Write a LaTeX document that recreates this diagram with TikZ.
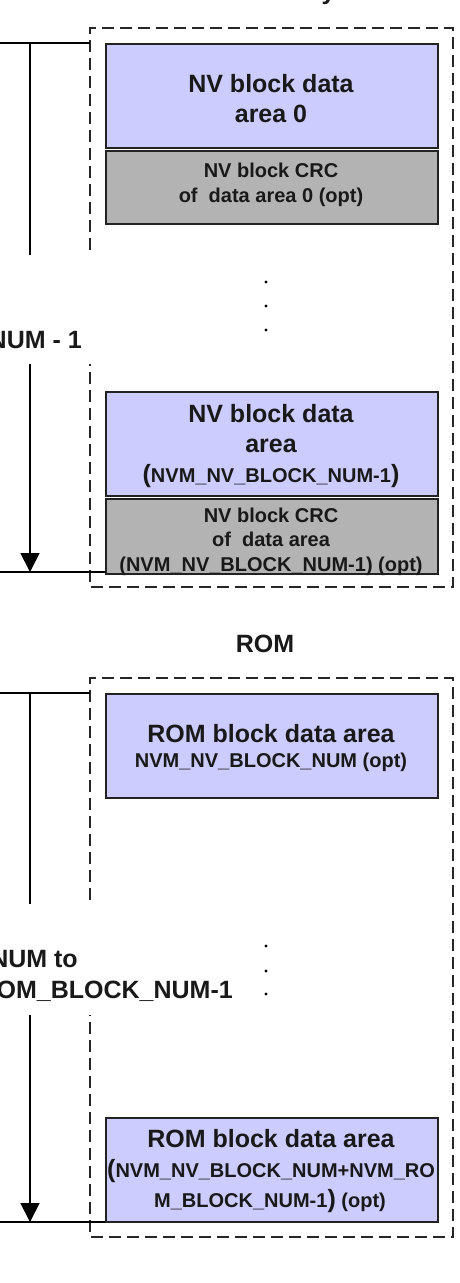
\documentclass[tikz,border=0pt]{standalone}
\usepackage{fontspec}
\setmainfont{Liberation Sans}
\usetikzlibrary{arrows.meta}
\definecolor{blkfill}{RGB}{204,204,255}
\definecolor{crcfill}{RGB}{179,179,179}
\definecolor{edge}{RGB}{34,34,34}
\begin{document}
\begin{tikzpicture}[x=1pt,y=-1pt,
  databox/.style={draw=edge, line width=1.6pt, fill=blkfill, minimum width=332pt, anchor=north west, inner sep=0pt},
  crcbox/.style={draw=edge, line width=1.6pt, fill=crcfill, minimum width=332pt, anchor=north west, inner sep=0pt},
  bigtxt/.style={font=\fontsize{25}{30}\selectfont\bfseries, inner sep=0pt, anchor=base, text=black!90},
  smalltxt/.style={font=\fontsize{20}{24}\selectfont\bfseries, inner sep=0pt, anchor=base, text=black!90},
  frame/.style={dashed, dash pattern=on 12pt off 6pt, line width=1.8pt, draw=black!85},
  rule/.style={line width=1.8pt, draw=black},
  span/.style={line width=1.8pt, draw=black, -{Triangle[width=19pt,length=19pt]}},
  dot/.style={circle, fill=black, inner sep=0pt, minimum size=3.2pt}
]
\useasboundingbox[fill=white] (0,0) rectangle (459,1283);

% title (mostly above the page)
\node[bigtxt] (title) at (266,-0.5) {NV memory};

% ---------- NV section ----------
\draw[frame] (90,250) -- (90,28) -- (453,28) -- (453,587) -- (90,587) -- (90,364);

\node[databox, minimum height=104pt] (nv0) at (105,43) {};
\node[crcbox, minimum height=73pt] (crc0) at (105,150) {};
\node[databox, minimum height=104pt] (nvn) at (105,391) {};
\node[crcbox, minimum height=75pt] (crcn) at (105,498) {};

\node[bigtxt] (nv0a) at (271,92) {NV block data};
\node[bigtxt] (nv0b) at (271,122) {area 0};
\node[smalltxt] (crc0a) at (271,177) {NV block CRC};
\node[smalltxt] (crc0b) at (271,202) {of\ \ data area 0 (opt)};

\node[bigtxt] (nvna) at (271,422) {NV block data};
\node[bigtxt] (nvnb) at (271,452) {area};
\node[bigtxt] (nvnc) at (271,482) {(\fontsize{20}{24}\selectfont NVM\_NV\_BLOCK\_NUM-1\fontsize{25}{30}\selectfont)};
\node[smalltxt] (crcna) at (271,522) {NV block CRC};
\node[smalltxt] (crcnb) at (271,546) {of\ \ data area};
\node[smalltxt] (crcnc) at (271,571) {(NVM\_NV\_BLOCK\_NUM-1) (opt)};

\node[dot] (d1) at (266,282) {};
\node[dot] (d2) at (266,306) {};
\node[dot] (d3) at (266,330) {};

\coordinate (nvtopL) at (0,43);
\coordinate (nvtopR) at (90,43);
\coordinate (nvbotL) at (0,572);
\coordinate (nvbotR) at (105,572);
\coordinate (nvA) at (30,43);
\coordinate (nvB) at (30,255);
\coordinate (nvC) at (30,364);
\coordinate (nvD) at (30,572);
\draw[rule] (nvtopL) -- (nvtopR);
\draw[rule] (nvbotL) -- (nvbotR);
\draw[rule] (nvA) -- (nvB);
\draw[span] (nvC) -- (nvD);
\node[bigtxt, anchor=base east] (nvlab) at (82,348) {NUM - 1};

% ---------- ROM ----------
\node[bigtxt] (romtitle) at (265,652) {ROM};

\draw[frame] (90,900) -- (90,678) -- (453,678) -- (453,1237) -- (90,1237) -- (90,1015);

\node[databox, minimum height=104pt] (rom0) at (105,693) {};
\node[databox, minimum height=104pt] (romn) at (105,1117) {};

\node[bigtxt] (rom0a) at (271,742) {ROM block data area};
\node[smalltxt] (rom0b) at (271,767) {NVM\_NV\_BLOCK\_NUM (opt)};

\node[bigtxt] (romna) at (271,1147) {ROM block data area};
\node[bigtxt, anchor=base west] (romnb) at (107,1177) {(\fontsize{20}{24}\selectfont NVM\_NV\_BLOCK\_NUM+NVM\_RO};
\node[bigtxt] (romnc) at (270,1207) {\fontsize{20}{24}\selectfont M\_BLOCK\_NUM-1\fontsize{25}{30}\selectfont)\fontsize{20}{24}\selectfont{} (opt)};

\node[dot] (d4) at (266,946) {};
\node[dot] (d5) at (266,971) {};
\node[dot] (d6) at (266,994) {};

\coordinate (romtopL) at (0,693);
\coordinate (romtopR) at (90,693);
\coordinate (rombotL) at (0,1222);
\coordinate (rombotR) at (105,1222);
\coordinate (romA) at (30,693);
\coordinate (romB) at (30,904);
\coordinate (romC) at (30,1015);
\coordinate (romD) at (30,1222);
\draw[rule] (romtopL) -- (romtopR);
\draw[rule] (rombotL) -- (rombotR);
\draw[rule] (romA) -- (romB);
\draw[span] (romC) -- (romD);
\node[bigtxt, anchor=base east] (romlab1) at (78,967) {NUM to};
\node[bigtxt, anchor=base east] (romlab2) at (233,998) {OM\_BLOCK\_NUM-1};
\end{tikzpicture}
\end{document}
